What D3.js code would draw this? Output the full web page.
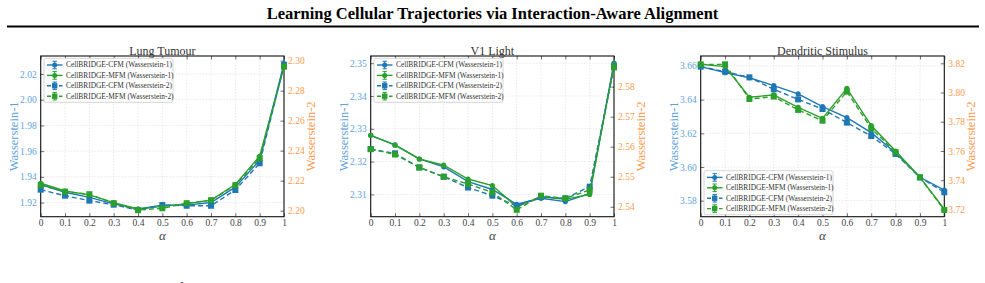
<!DOCTYPE html>
<html>
<head>
<meta charset="utf-8">
<script src="https://cdn.jsdelivr.net/npm/d3@7"></script>
<style>
  body { margin: 0; background: #fff; }
  svg { display: block; font-family: "Liberation Serif", "DejaVu Serif", serif; }
</style>
</head>
<body>
<div id="chart"></div>
<script>
// Shared x values
var alphas = [0, 0.1, 0.2, 0.3, 0.4, 0.5, 0.6, 0.7, 0.8, 0.9, 1];
var xTicks = alphas;

// Lung Tumour
var lungCfmW1 = [1.934, 1.928, 1.924, 1.919, 1.915, 1.918, 1.918, 1.920, 1.932, 1.953, 2.028];
var lungMfmW1 = [1.935, 1.929, 1.926, 1.920, 1.915, 1.917, 1.919, 1.922, 1.934, 1.956, 2.026];
var lungCfmW2 = [2.214, 2.210, 2.2067, 2.204, 2.2004, 2.2038, 2.2033, 2.2033, 2.2138, 2.2316, 2.297];
var lungMfmW2 = [2.217, 2.2127, 2.211, 2.205, 2.2004, 2.2016, 2.205, 2.207, 2.217, 2.235, 2.296];
var lungW1Ticks = [1.92, 1.94, 1.96, 1.98, 2.00, 2.02];
var lungW2Ticks = [2.20, 2.22, 2.24, 2.26, 2.28, 2.30];

// V1 Light
var v1CfmW1 = [2.328, 2.3251, 2.3208, 2.3184, 2.3139, 2.3115, 2.307, 2.3088, 2.3078, 2.3103, 2.350];
var v1MfmW1 = [2.328, 2.325, 2.3208, 2.3189, 2.3147, 2.3127, 2.3062, 2.3093, 2.3085, 2.310, 2.3498];
var v1CfmW2 = [2.5592, 2.5578, 2.5531, 2.550, 2.5464, 2.5437, 2.5403, 2.5433, 2.5428, 2.5467, 2.5867];
var v1MfmW2 = [2.5592, 2.5574, 2.5531, 2.550, 2.5476, 2.5448, 2.539, 2.5437, 2.5428, 2.5456, 2.5864];
var v1W1Ticks = [2.31, 2.32, 2.33, 2.34, 2.35];
var v1W2Ticks = [2.54, 2.55, 2.56, 2.57, 2.58];

// Dendritic Stimulus
var dendCfmW1 = [3.6596, 3.656, 3.653, 3.6483, 3.6434, 3.6358, 3.6293, 3.6204, 3.6085, 3.5939, 3.5863];
var dendMfmW1 = [3.661, 3.6596, 3.6414, 3.6428, 3.6354, 3.6289, 3.6467, 3.6246, 3.6095, 3.5939, 3.5749];
var dendCfmW2 = [3.8177, 3.8143, 3.8104, 3.8022, 3.7953, 3.7887, 3.7794, 3.7702, 3.7579, 3.7419, 3.7317];
var dendMfmW2 = [3.8193, 3.8193, 3.7956, 3.7972, 3.7881, 3.7807, 3.8006, 3.7755, 3.7591, 3.7419, 3.7196];
var dendW1Ticks = [3.58, 3.60, 3.62, 3.64, 3.66];
var dendW2Ticks = [3.72, 3.74, 3.76, 3.78, 3.80, 3.82];

var legendLabels = [
    "CellBRIDGE-CFM (Wasserstein-1)",
    "CellBRIDGE-MFM (Wasserstein-1)",
    "CellBRIDGE-CFM (Wasserstein-2)",
    "CellBRIDGE-MFM (Wasserstein-2)"
];

// Colours
var blue = "#1f77b4";
var green = "#2ca02c";
var leftCol = "#5fa2dc";
var rightCol = "#fd9a4c";
var textCol = "#444";

var svgWdt = 985;
var svgHgt = 283;

var svg = d3.select("#chart").append("svg")
    .attr("width", svgWdt)
    .attr("height", svgHgt);

// Page title and rule
svg.append("text")
    .attr("x", 492.5)
    .attr("y", 19)
    .attr("text-anchor", "middle")
    .attr("font-size", 16.5)
    .attr("font-weight", "bold")
    .attr("fill", "#000")
    .text("Learning Cellular Trajectories via Interaction-Aware Alignment");
svg.append("line")
    .attr("x1", 7).attr("x2", 979)
    .attr("y1", 26.5).attr("y2", 26.5)
    .attr("stroke", "#000").attr("stroke-width", 2);

// Cut-off caption at the bottom
svg.append("text")
    .attr("x", 62)
    .attr("y", 293)
    .attr("font-size", 14)
    .attr("fill", "#000")
    .text("Figure 4: Decrease of the SCD loss with MFM as the Wasserstein-1 and Wasserstein-2 distances between the predicted and observed populations are reduced.");

// Panel settings
var panels = [
    {title: "Lung Tumour", left: 40.7, right: 284, legendPos: "top",
     w1: [lungCfmW1, lungMfmW1], w2: [lungCfmW2, lungMfmW2],
     yDom: [1.909, 2.034], y2Dom: [2.196, 2.3031],
     yTicks: lungW1Ticks, y2Ticks: lungW2Ticks},
    {title: "V1 Light", left: 370.7, right: 614, legendPos: "top",
     w1: [v1CfmW1, v1MfmW1], w2: [v1CfmW2, v1MfmW2],
     yDom: [2.3032, 2.3522], y2Dom: [2.5367, 2.5902],
     yTicks: v1W1Ticks, y2Ticks: v1W2Ticks},
    {title: "Dendritic Stimulus", left: 700.7, right: 944.3, legendPos: "bottom",
     w1: [dendCfmW1, dendMfmW1], w2: [dendCfmW2, dendMfmW2],
     yDom: [3.5705, 3.6659], y2Dom: [3.715, 3.825],
     yTicks: dendW1Ticks, y2Ticks: dendW2Ticks}
];

var plotTop = 56;
var plotBot = 216.7;

function xFmt(d) {
    return d === 0 ? "0" : d === 1 ? "1" : d3.format(".1f")(d);
}

function drawMarker(g, shape, x, y, col) {
    if (shape === "circle") {
        g.append("circle")
            .attr("cx", x).attr("cy", y).attr("r", 2.6)
            .attr("fill", col);
    } else {
        g.append("rect")
            .attr("x", x - 3).attr("y", y - 3)
            .attr("width", 6).attr("height", 6)
            .attr("fill", col);
    }
}

panels.forEach(p => {
    var g = svg.append("g");
    var wdt = p.right - p.left;
    var hgt = plotBot - plotTop;

    var x = d3.scaleLinear().domain([0, 1]).range([p.left, p.right]);
    var y = d3.scaleLinear().domain(p.yDom).range([plotBot, plotTop]);
    var y2 = d3.scaleLinear().domain(p.y2Dom).range([plotBot, plotTop]);

    // Grid lines
    var grid = g.append("g")
        .attr("stroke", "#d8d8d8")
        .attr("stroke-width", 0.6)
        .attr("stroke-dasharray", "1.5,1.5");
    xTicks.forEach(t => {
        grid.append("line")
            .attr("x1", x(t)).attr("x2", x(t))
            .attr("y1", plotTop).attr("y2", plotBot);
    });
    p.yTicks.forEach(t => {
        grid.append("line")
            .attr("x1", p.left).attr("x2", p.right)
            .attr("y1", y(t)).attr("y2", y(t));
    });

    // Axes (ticks pointing inward)
    var botAxis = d3.axisBottom(x).tickValues(xTicks).tickFormat(xFmt)
        .tickSizeInner(-3.5).tickSizeOuter(0).tickPadding(2.5);
    var topAxis = d3.axisTop(x).tickValues(xTicks).tickFormat("")
        .tickSizeInner(-3.5).tickSizeOuter(0);
    var lftAxis = d3.axisLeft(y).tickValues(p.yTicks).tickFormat(d3.format(".2f"))
        .tickSizeInner(-3.5).tickSizeOuter(0).tickPadding(4);
    var rgtAxis = d3.axisRight(y2).tickValues(p.y2Ticks).tickFormat(d3.format(".2f"))
        .tickSizeInner(-3.5).tickSizeOuter(0).tickPadding(4);

    var xAx = g.append("g").attr("transform", `translate(0, ${plotBot})`).call(botAxis);
    var tAx = g.append("g").attr("transform", `translate(0, ${plotTop})`).call(topAxis);
    var lAx = g.append("g").attr("transform", `translate(${p.left}, 0)`).call(lftAxis);
    var rAx = g.append("g").attr("transform", `translate(${p.right}, 0)`).call(rgtAxis);

    [xAx, tAx, lAx, rAx].forEach(a => {
        a.select(".domain").remove();
        a.selectAll(".tick line").attr("stroke", "#333").attr("stroke-width", 0.7);
        a.selectAll("text").attr("font-family", "Liberation Serif, serif").attr("font-size", 9.5);
    });
    xAx.selectAll("text").attr("fill", textCol);
    lAx.selectAll("text").attr("fill", leftCol);
    rAx.selectAll("text").attr("fill", rightCol);

    // Frame
    g.append("rect")
        .attr("x", p.left).attr("y", plotTop)
        .attr("width", wdt).attr("height", hgt)
        .attr("fill", "none").attr("stroke", "#111").attr("stroke-width", 1.1);

    // Series: solid W1 on left axis, dashed W2 on right axis
    var series = [
        {vals: p.w1[0], scale: y, col: blue, dash: null, shape: "circle"},
        {vals: p.w1[1], scale: y, col: green, dash: null, shape: "circle"},
        {vals: p.w2[0], scale: y2, col: blue, dash: "5,3", shape: "square"},
        {vals: p.w2[1], scale: y2, col: green, dash: "5,3", shape: "square"}
    ];

    series.forEach(s => {
        var line = d3.line()
            .x((d, i) => x(alphas[i]))
            .y(d => s.scale(d));
        g.append("path")
            .datum(s.vals)
            .attr("d", line)
            .attr("fill", "none")
            .attr("stroke", s.col)
            .attr("stroke-width", 1.4)
            .attr("stroke-dasharray", s.dash);
        var mg = g.append("g");
        s.vals.forEach((d, i) => drawMarker(mg, s.shape, x(alphas[i]), s.scale(d), s.col));
    });

    // Panel title
    g.append("text")
        .attr("x", (p.left + p.right) / 2)
        .attr("y", plotTop - 1.5)
        .attr("text-anchor", "middle")
        .attr("font-size", 12)
        .attr("fill", "#333")
        .text(p.title);

    // Axis labels
    g.append("text")
        .attr("transform", `translate(${p.left - 23}, ${(plotTop + plotBot) / 2}) rotate(-90)`)
        .attr("text-anchor", "middle")
        .attr("font-size", 12.5)
        .attr("fill", leftCol)
        .text("Wasserstein-1");
    g.append("text")
        .attr("transform", `translate(${p.right + 31}, ${(plotTop + plotBot) / 2}) rotate(-90)`)
        .attr("text-anchor", "middle")
        .attr("font-size", 12.5)
        .attr("fill", rightCol)
        .text("Wasserstein-2");
    g.append("text")
        .attr("x", (p.left + p.right) / 2)
        .attr("y", 240)
        .attr("text-anchor", "middle")
        .attr("font-size", 13)
        .attr("font-style", "italic")
        .attr("fill", textCol)
        .text("α");

    // Legend
    var lgX = p.left + 3.3;
    var lgY = p.legendPos === "top" ? plotTop + 2.3 : plotBot - 46;
    var lg = g.append("g").attr("transform", `translate(${lgX}, ${lgY})`);
    lg.append("rect")
        .attr("width", 129).attr("height", 44)
        .attr("rx", 2)
        .attr("fill", "#fff").attr("fill-opacity", 0.9)
        .attr("stroke", "#ccc").attr("stroke-width", 0.8);
    series.forEach((s, i) => {
        var ly = 6.7 + i * 10.4;
        var row = lg.append("g");
        row.append("line")
            .attr("x1", 3).attr("x2", 18.5)
            .attr("y1", ly).attr("y2", ly)
            .attr("stroke", s.col).attr("stroke-width", 1.4)
            .attr("stroke-dasharray", s.dash ? "4,2" : null);
        row.append("line")
            .attr("x1", 10.7).attr("x2", 10.7)
            .attr("y1", ly - 3.8).attr("y2", ly + 3.8)
            .attr("stroke", s.col).attr("stroke-width", 1);
        row.append("line")
            .attr("x1", 8.5).attr("x2", 12.9)
            .attr("y1", ly - 3.8).attr("y2", ly - 3.8)
            .attr("stroke", s.col).attr("stroke-width", 1);
        row.append("line")
            .attr("x1", 8.5).attr("x2", 12.9)
            .attr("y1", ly + 3.8).attr("y2", ly + 3.8)
            .attr("stroke", s.col).attr("stroke-width", 1);
        if (s.shape === "circle") {
            row.append("circle").attr("cx", 10.7).attr("cy", ly).attr("r", 2.5).attr("fill", s.col);
        } else {
            row.append("rect").attr("x", 8).attr("y", ly - 2.7).attr("width", 5.4).attr("height", 5.4).attr("fill", s.col);
        }
        row.append("text")
            .attr("x", 22)
            .attr("y", ly + 2.5)
            .attr("font-size", 7.4)
            .attr("fill", "#333")
            .text(legendLabels[i]);
    });
});
</script>
</body>
</html>
